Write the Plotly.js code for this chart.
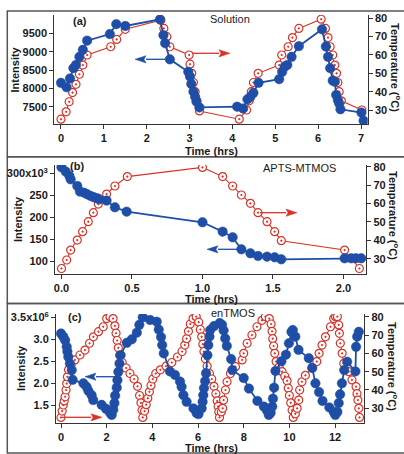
<!DOCTYPE html>
<html><head><meta charset="utf-8">
<script src="https://cdn.plot.ly/plotly-3.0.1.min.js"></script>
<style>html,body{margin:0;padding:0;background:#fff}#chart{width:404px;height:454px}</style>
</head><body><div id="chart"></div>
<script>
// ---------- Panel (a): Solution ----------
const aTimeInt = [0, 0.13, 0.21, 0.29, 0.35, 0.43, 0.51, 0.61, 1.14, 1.29, 1.50, 2.31, 2.39, 2.43, 2.54, 2.97, 3.01, 3.04, 3.09, 3.13, 3.16, 3.23, 4.11, 4.25, 4.35, 4.42, 4.49, 4.61, 5.09, 5.16, 5.22, 5.28, 5.38, 5.55, 6.09, 6.18, 6.23, 6.28, 6.34, 6.39, 6.42, 6.46, 6.49, 6.52, 7.01, 7.06];
const aIntensity = [8150, 8030, 8270, 8550, 8640, 8860, 9050, 9300, 9480, 9750, 9700, 9880, 9450, 9230, 8790, 8450, 8320, 8120, 7910, 7770, 7640, 7480, 7500, 7450, 7700, 7770, 7880, 8150, 8250, 8450, 8590, 8640, 8860, 9150, 9610, 9140, 8860, 8550, 8210, 8180, 7820, 7680, 7590, 7430, 7340, 7120];
const aTimeTemp = [0, 0.12, 0.19, 0.27, 0.35, 0.43, 0.51, 0.61, 1.16, 1.30, 1.50, 2.33, 2.40, 2.47, 2.54, 2.99, 3.01, 3.05, 3.09, 3.13, 3.17, 3.23, 4.16, 4.33, 4.39, 4.44, 4.49, 4.60, 5.09, 5.15, 5.30, 5.40, 5.55, 6.07, 6.17, 6.23, 6.28, 6.34, 6.39, 6.43, 6.46, 6.49, 6.54, 7.02];
const aTemp = [25, 29, 34.5, 39.5, 44, 49.5, 54.5, 60, 64.5, 68.5, 74, 79, 74.5, 70, 64.5, 60, 55, 50, 45, 40, 35, 29.5, 25, 30, 35, 40, 45, 50, 54.5, 60, 64.5, 69.5, 74.5, 79.5, 74.5, 69.5, 64.5, 60, 54.5, 50, 45, 40, 35, 30];

// ---------- Panel (b): APTS-MTMOS (intensity in units of 10^3) ----------
const bTimeInt = [0, 0.030, 0.056, 0.065, 0.112, 0.131, 0.160, 0.183, 0.207, 0.230, 0.254, 0.268, 0.320, 0.379, 0.462, 1.00, 1.143, 1.214, 1.276, 1.34, 1.394, 1.458, 1.512, 1.559, 2.008, 2.055, 2.088, 2.126];
const bIntensityK = [313.7, 303.8, 293.9, 286.3, 271.1, 258.2, 255.9, 252.1, 248.3, 245.3, 243, 240.7, 237.7, 222.5, 212.6, 188.3, 167, 154, 126.7, 117.6, 111.5, 110, 108.4, 103.9, 106.2, 106.2, 106.2, 106.2];
const bTimeTemp = [0, 0.037, 0.065, 0.112, 0.15, 0.19, 0.226, 0.261, 0.32, 0.379, 0.467, 1.0, 1.143, 1.214, 1.276, 1.34, 1.394, 1.458, 1.512, 1.559, 2.008, 2.113];
const bTemp = [24.7, 29.3, 34.7, 40.1, 44.7, 50.1, 55, 59.7, 65.1, 69.5, 74.6, 79.6, 74.6, 69.5, 64.6, 60.1, 55, 50.1, 44.7, 39.8, 34.7, 24.7];

// ---------- Panel (c): enTMOS (intensity in units of 10^6) ----------
const cTimeInt = [0.00,0.10,0.18,0.25,0.28,0.32,0.39,0.47,0.51,0.98,
  1.12,1.20,1.34,1.41,1.78,1.97,2.10,2.15,2.22,2.29,
  2.34,2.37,2.44,2.47,2.51,2.56,2.61,2.88,3.10,3.32,
  3.43,3.58,3.90,4.19,4.28,4.38,4.43,4.50,4.77,4.99,
  5.21,5.28,5.36,5.50,5.80,5.94,6.02,6.16,6.20,6.23,
  6.26,6.31,6.35,6.41,6.45,6.50,6.53,6.70,6.95,7.05,
  7.12,7.19,7.26,7.45,7.50,8.00,8.23,8.60,8.88,9.02,
  9.10,9.18,9.25,9.28,9.33,9.39,9.65,9.85,9.98,10.09,
  10.15,10.26,10.40,10.85,11.00,11.14,11.30,11.45,11.75,11.94,
  12.01,12.10,12.16,12.22,12.30,12.40,12.53,12.89,12.92,12.97,
  13.04];
const cIntensityM = [3.13,3.06,2.98,2.83,2.72,2.60,2.45,2.30,2.08,2.00,
  1.92,1.83,1.73,1.62,1.51,1.42,1.38,1.33,1.28,1.40,
  1.55,1.72,1.90,2.07,2.26,2.45,2.64,2.92,3.00,3.15,
  3.33,3.50,3.44,3.40,3.22,3.05,2.87,2.68,2.27,2.19,
  2.04,1.92,1.73,1.58,1.43,1.32,1.30,1.43,1.58,1.73,
  1.89,2.05,2.23,2.64,2.87,3.06,3.21,3.30,3.37,3.33,
  3.20,3.02,2.85,2.55,2.30,2.12,1.88,1.60,1.47,1.38,
  1.28,1.33,1.47,1.65,1.90,2.28,2.50,2.65,2.91,3.17,
  3.21,3.06,2.76,2.57,2.35,2.00,1.80,1.60,1.45,1.35,
  1.28,1.35,1.55,1.75,2.00,2.30,2.49,2.27,2.83,3.06,
  3.17];
const cTimeTemp = [0.00,0.05,0.10,0.14,0.18,0.22,0.25,0.28,0.33,0.45,0.61,0.83,1.05,1.25,1.42,1.64,1.85,2.00,2.15,
  2.28,2.36,2.41,2.46,2.51,2.57,2.68,2.85,3.02,3.20,3.35,3.44,3.50,3.55,3.58,
  3.66,3.73,3.80,3.87,3.94,4.02,4.15,4.35,4.60,4.85,5.10,5.30,5.42,5.50,5.58,5.66,5.78,5.92,
  6.03,6.10,6.16,6.21,6.26,6.32,6.40,6.50,6.60,6.70,6.78,6.84,6.88,6.91,6.94,
  7.02,7.08,7.12,7.20,7.27,7.42,7.64,7.93,8.00,8.15,8.36,8.58,8.80,8.95,
  9.12,9.20,9.24,9.27,9.31,9.36,9.42,9.55,9.68,9.80,9.90,9.95,10.00,10.06,10.12,10.17,
  10.26,10.34,10.41,10.45,10.55,10.70,11.00,11.20,11.30,11.43,11.58,11.80,11.94,12.02,
  12.10,12.16,12.19,12.23,12.31,12.38,12.60,12.74,12.92,12.96,13.00,13.04,13.07];
const cTemp = [25,28.5,31.8,34,36.3,40,43.5,47.2,51,54,56.4,59.1,61.8,65.5,69,71.8,74.5,79,80,
  79,75,71,67,63,59,55,52,49,46,42,37,33,29,25,
  28.5,32,35.5,39,42.5,46,49,51,53,55,58,61,64.5,68,72,76,79,80,
  77,73,69,65,61,57,53,49,46,42,38,34,31,28,25,
  28,30,34.5,40,44.5,49,52.7,56.4,60,65.5,70,74.5,78,80,
  79,76,72,68,64,60,55.5,52.5,50,47.5,45,41,37,33,29,25,
  27,30,34.5,40,44.5,48,52,55.5,60,64.5,69,74.5,79,80,
  80,75.5,70.9,65.5,60,54.5,50,45.5,41.8,38,34.5,30,25];

// tick labels
const aTimeTicks = [0,1,2,3,4,5,6,7];
const aIntTicks = [7500,8000,8500,9000,9500];
const bTimeTicks = [0,0.5,1,1.5,2];
const bTimeLabels = ['0.0','0.5','1.0','1.5','2.0'];
const bIntTicks = [100,150,200,250,300];
const bIntLabels = ['100','150','200','250','300x10<sup>3</sup>'];
const cTimeTicks = [0,2,4,6,8,10,12];
const cIntTicks = [1.5,2.0,2.5,3.0,3.5];
const cIntLabels = ['1.5','2.0','2.5','3.0','3.5x10<sup>6</sup>'];
const tempTicks = [30,40,50,60,70,80];

// ---------- layout helpers ----------
const W = 404, H = 454;
const PX = v => v / W, PY = v => 1 - v / H;
const BLUE = '#1f4ea6', RED = '#d6342a', AX = '#333';
const FAM = 'Liberation Sans, Arial, Helvetica, sans-serif';
const tickFont = {family: FAM, size: 11, color: '#1a1a1a', weight: 'bold'};

function xAxis(l, r, range, vals, text, anchor) {
  const o = {domain: [PX(l), PX(r)], range: range, anchor: anchor, tickmode: 'array', tickvals: vals,
    showline: true, linecolor: AX, linewidth: 1, ticks: 'outside', ticklen: 4, tickcolor: AX,
    showgrid: false, zeroline: false, tickfont: tickFont, fixedrange: true};
  if (text) o.ticktext = text;
  return o;
}
function tempAxis(top, bot, range, anchor) {
  return {domain: [PY(bot), PY(top)], range: range, anchor: anchor, side: 'right', tickmode: 'array',
    tickvals: tempTicks, showline: true, linecolor: AX, linewidth: 1, ticks: 'outside', ticklen: 4,
    tickcolor: AX, showgrid: false, zeroline: false, tickfont: tickFont, fixedrange: true};
}
function intAxis(over, range, vals, text, anchor) {
  const o = {overlaying: over, range: range, anchor: anchor, side: 'left', tickmode: 'array', tickvals: vals,
    showline: true, linecolor: AX, linewidth: 1, ticks: 'outside', ticklen: 4, tickcolor: AX,
    showgrid: false, zeroline: false, tickfont: tickFont, fixedrange: true};
  if (text) o.ticktext = text;
  return o;
}

function tempTrace(x, y, xa, ya) {
  return {x: x, y: y, xaxis: xa, yaxis: ya, type: 'scatter', mode: 'lines+markers', hoverinfo: 'skip',
    line: {color: RED, width: 1.1},
    marker: {symbol: 'circle-dot', size: 8, color: 'white', line: {color: RED, width: 1.2}}};
}
function intTrace(x, y, xa, ya) {
  return {x: x, y: y, xaxis: xa, yaxis: ya, type: 'scatter', mode: 'lines+markers', hoverinfo: 'skip',
    line: {color: BLUE, width: 1.8},
    marker: {symbol: 'circle', size: 9.5, color: BLUE, line: {color: BLUE, width: 0.5}}};
}

const data = [
  tempTrace(aTimeTemp, aTemp, 'x', 'y'),
  intTrace(aTimeInt, aIntensity, 'x', 'y2'),
  tempTrace(bTimeTemp, bTemp, 'x2', 'y3'),
  intTrace(bTimeInt, bIntensityK, 'x2', 'y4'),
  tempTrace(cTimeTemp, cTemp, 'x3', 'y5'),
  intTrace(cTimeInt, cIntensityM, 'x3', 'y6')
];

function txt(text, x, y, opts) {
  return Object.assign({text: text, x: PX(x), y: PY(y), xref: 'paper', yref: 'paper', showarrow: false,
    xanchor: 'center', yanchor: 'middle', font: {family: FAM, size: 11, color: '#1a1a1a'}}, opts || {});
}
const bold = {family: FAM, size: 11, color: '#1a1a1a', weight: 'bold'};

const annotations = [
  txt('Time (hrs)', 211, 151, {font: bold}),
  txt('Intensity', 14.5, 69, {font: bold, textangle: -90}),
  txt('Temperature (<sup>o</sup>C)', 396, 67, {font: bold, textangle: 90}),
  txt('(a)', 80, 21, {font: bold}),
  txt('Solution', 230, 19),
  txt('Time (hrs)', 211, 299, {font: bold}),
  txt('Intensity', 18, 219, {font: bold, textangle: -90}),
  txt('Temperature (<sup>o</sup>C)', 394, 215, {font: bold, textangle: 90}),
  txt('(b)', 77, 166, {font: bold}),
  txt('APTS-MTMOS', 299.5, 167.5),
  txt('Time (hrs)', 211, 448, {font: bold}),
  txt('Intensity', 21, 368, {font: bold, textangle: -90}),
  txt('Temperature (<sup>o</sup>C)', 393, 366, {font: bold, textangle: 90}),
  txt('(c)', 75, 317, {font: bold}),
  txt('enTMOS', 233.5, 313)
];

// horizontal arrows drawn as shapes: head at (hx,hy), tail at (tx,hy)
function arrowShapes(hx, hy, tx, color) {
  const dir = tx > hx ? 1 : -1;          // tail side relative to head
  const L = 11, Wd = 3.6;                 // head length / half width (px)
  const bx = hx + dir * L;
  return [
    {type: 'line', xref: 'paper', yref: 'paper', x0: PX(tx), y0: PY(hy), x1: PX(bx), y1: PY(hy),
      line: {color: color, width: 1.3}},
    {type: 'path', xref: 'paper', yref: 'paper',
      path: 'M' + PX(hx) + ',' + PY(hy) + ' L' + PX(bx) + ',' + PY(hy - Wd) +
            ' L' + PX(bx - dir * 2) + ',' + PY(hy) + ' L' + PX(bx) + ',' + PY(hy + Wd) + ' Z',
      fillcolor: color, line: {color: color, width: 0.5}}
  ];
}

const box = (t, b) => ({type: 'rect', xref: 'paper', yref: 'paper', x0: PX(7.3), x1: PX(406), y0: PY(b), y1: PY(t),
  line: {color: '#555', width: 1.5}, fillcolor: 'rgba(0,0,0,0)', layer: 'below'});

const shapes = [box(11, 156.7), box(156.7, 303.5), box(303.5, 453)]
  .concat(arrowShapes(135, 59.3, 168, BLUE))
  .concat(arrowShapes(230, 53.3, 192, RED))
  .concat(arrowShapes(207, 249.3, 241, BLUE))
  .concat(arrowShapes(297, 212.7, 260, RED))
  .concat(arrowShapes(85, 376.7, 117, BLUE))
  .concat(arrowShapes(102, 417.3, 62, RED));

const layout = {
  width: W, height: H, margin: {l: 0, r: 0, t: 0, b: 0}, showlegend: false,
  paper_bgcolor: '#fff', plot_bgcolor: 'rgba(0,0,0,0)',
  font: {family: FAM, size: 11, color: '#1a1a1a'},
  xaxis: xAxis(54.3, 367.7, [-0.156, 7.156], aTimeTicks, null, 'y'),
  yaxis: tempAxis(15, 124, [22.37, 81.8], 'x'),
  yaxis2: intAxis('y', [7029, 9999], aIntTicks, null, 'x'),
  xaxis2: xAxis(55, 366.3, [-0.046, 2.162], bTimeTicks, bTimeLabels, 'y3'),
  yaxis3: tempAxis(165, 274, [21.7, 80.9], 'x2'),
  yaxis4: intAxis('y3', [70.4, 318.9], bIntTicks, bIntLabels, 'x2'),
  xaxis3: xAxis(56, 364.3, [-0.219, 13.28], cTimeTicks, null, 'y5'),
  yaxis5: tempAxis(314, 422.5, [22.25, 81.47], 'x3'),
  yaxis6: intAxis('y5', [1.109, 3.575], cIntTicks, cIntLabels, 'x3'),
  annotations: annotations,
  shapes: shapes
};

Plotly.newPlot('chart', data, layout, {staticPlot: true, displayModeBar: false});
</script>
</body></html>
